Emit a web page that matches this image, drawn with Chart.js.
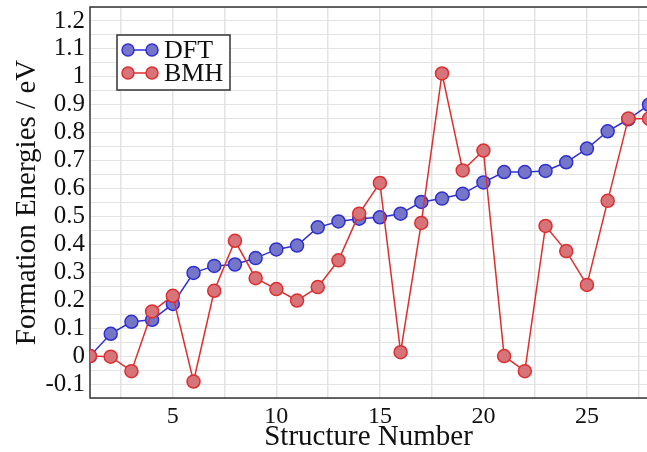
<!DOCTYPE html>
<html>
<head>
<meta charset="utf-8">
<script src="https://cdn.jsdelivr.net/npm/chart.js@4.4.1/dist/chart.umd.min.js"></script>
<style>
  html, body { margin: 0; padding: 0; background: #fff; }
  #wrap { width: 647px; height: 452px; position: relative; }
</style>
</head>
<body>
<div id="wrap"><canvas id="chart"></canvas></div>
<script>
// données
const structureNumbers = [1,2,3,4,5,6,7,8,9,10,11,12,13,14,15,16,17,18,19,20,21,22,23,24,25,26,27,28];
const dftValues = [0, 0.08, 0.123, 0.13, 0.187, 0.298, 0.323, 0.328, 0.351, 0.382, 0.396, 0.461,
                   0.482, 0.492, 0.497, 0.51, 0.552, 0.564, 0.581, 0.622, 0.659, 0.659, 0.663,
                   0.694, 0.743, 0.805, 0.848, 0.90];
const bmhValues = [0, -0.002, -0.054, 0.16, 0.216, -0.091, 0.234, 0.413, 0.279, 0.24, 0.199, 0.247,
                   0.343, 0.51, 0.62, 0.014, 0.477, 1.012, 0.665, 0.736, 0.0, -0.054, 0.466,
                   0.376, 0.255, 0.556, 0.851, 0.85];

const xTickLabels = ['5', '10', '15', '20', '25'];
const xGrid = [2.5, 5, 7.5, 10, 12.5, 15, 17.5, 20, 22.5, 25, 27.5];
const yTickLabels = ['-0.1', '0', '0.1', '0.2', '0.3', '0.4', '0.5', '0.6', '0.7', '0.8', '0.9', '1', '1.1', '1.2'];
const yGrid = [-0.15, -0.1, -0.05, 0, 0.05, 0.1, 0.15, 0.2, 0.25, 0.3, 0.35, 0.4, 0.45, 0.5, 0.55,
               0.6, 0.65, 0.7, 0.75, 0.8, 0.85, 0.9, 0.95, 1, 1.05, 1.1, 1.15, 1.2, 1.25];

const FONT = '"Liberation Serif", "DejaVu Serif", serif';
const BLUE_LINE = '#2f2fd2', BLUE_FILL = '#7676c9';
const RED_LINE = '#de2e2e', RED_FILL = '#d6747a';

function labelFor(list, v) {
    const hit = list.find(l => Math.abs(parseFloat(l) - v) < 1e-6);
    return hit === undefined ? '' : hit;
}

// pas de marge automatique autour des axes
function noPad(s) {
    s.paddingTop = 0; s.paddingBottom = 0;
    s.paddingLeft = 0; s.paddingRight = 0;
}

// cadre noir autour de la zone de tracé
const framePlugin = {
    id: 'frame',
    beforeDatasetsDraw(chart) {
        const a = chart.chartArea, ctx = chart.ctx;
        ctx.save();
        ctx.strokeStyle = '#333';
        ctx.lineWidth = 1.5;
        ctx.strokeRect(a.left, a.top, a.right - a.left + 2, a.bottom - a.top);
        ctx.restore();
    }
};

// légende dans le coin haut gauche
const legendPlugin = {
    id: 'boxLegend',
    afterDatasetsDraw(chart) {
        const ctx = chart.ctx;
        const items = [
            { text: 'DFT', line: BLUE_LINE, fill: BLUE_FILL },
            { text: 'BMH', line: RED_LINE, fill: RED_FILL }
        ];
        ctx.save();
        ctx.fillStyle = '#fff';
        ctx.fillRect(117, 35, 113, 55);
        ctx.strokeStyle = '#333';
        ctx.lineWidth = 1.5;
        ctx.strokeRect(117, 35, 113, 55);
        items.forEach((it, i) => {
            const y = 50 + i * 23;
            ctx.strokeStyle = it.line;
            ctx.lineWidth = 1.5;
            ctx.beginPath();
            ctx.moveTo(128, y);
            ctx.lineTo(152, y);
            ctx.stroke();
            [128, 152].forEach(cx => {
                ctx.beginPath();
                ctx.arc(cx, y, 6, 0, Math.PI * 2);
                ctx.fillStyle = it.fill;
                ctx.fill();
                ctx.stroke();
            });
            ctx.fillStyle = '#111';
            ctx.font = '26px ' + FONT;
            ctx.textBaseline = 'middle';
            ctx.fillText(it.text, 164, y + 1);
        });
        ctx.restore();
    }
};

const ctx = document.getElementById('chart').getContext('2d');
new Chart(ctx, {
    type: 'line',
    data: {
        datasets: [
            {
                label: 'DFT',
                data: structureNumbers.map((n, i) => ({ x: n, y: dftValues[i] })),
                borderColor: BLUE_LINE,
                backgroundColor: BLUE_FILL,
                pointBackgroundColor: BLUE_FILL,
                pointBorderColor: BLUE_LINE,
                borderWidth: 1.5,
                pointRadius: 6.5,
                pointBorderWidth: 1.5,
                tension: 0,
                order: 1
            },
            {
                label: 'BMH',
                data: structureNumbers.map((n, i) => ({ x: n, y: bmhValues[i] })),
                borderColor: RED_LINE,
                backgroundColor: RED_FILL,
                pointBackgroundColor: RED_FILL,
                pointBorderColor: RED_LINE,
                borderWidth: 1.5,
                pointRadius: 6.5,
                pointBorderWidth: 1.5,
                tension: 0,
                order: 0
            }
        ]
    },
    options: {
        responsive: true,
        maintainAspectRatio: false,
        animation: false,
        layout: { autoPadding: false, padding: { top: 7, right: 0, left: 0, bottom: 0 } },
        plugins: {
            legend: { display: false },
            tooltip: { enabled: false }
        },
        scales: {
            x: {
                type: 'linear',
                min: 1,
                max: 27.9,
                afterBuildTicks: s => { s.ticks = xGrid.map(v => ({ value: v })); },
                afterFit: s => { s.height = 54; noPad(s); },
                grid: { color: '#e3e3e3', lineWidth: 1.5, drawTicks: false },
                border: { display: false },
                ticks: {
                    padding: 4,
                    maxRotation: 0,
                    autoSkip: false,
                    color: '#111',
                    font: { family: FONT, size: 24 },
                    callback: v => labelFor(xTickLabels, v)
                },
                title: {
                    display: true,
                    text: 'Structure Number',
                    color: '#111',
                    font: { family: FONT, size: 29, lineHeight: 1 },
                    padding: { top: 0, bottom: 0.5 }
                }
            },
            y: {
                min: -0.15,
                max: 1.25,
                afterBuildTicks: s => { s.ticks = yGrid.map(v => ({ value: v })); },
                afterFit: s => { s.width = 90; noPad(s); },
                grid: { color: '#e3e3e3', lineWidth: 1, drawTicks: false },
                border: { display: false },
                ticks: {
                    padding: 5,
                    autoSkip: false,
                    color: '#111',
                    font: { family: FONT, size: 25 },
                    callback: v => labelFor(yTickLabels, v)
                },
                title: {
                    display: true,
                    text: 'Formation Energies / eV',
                    color: '#111',
                    font: { family: FONT, size: 29, lineHeight: 1 },
                    padding: { top: 12.5, bottom: 0 }
                }
            }
        }
    },
    plugins: [framePlugin, legendPlugin]
});
</script>
</body>
</html>
